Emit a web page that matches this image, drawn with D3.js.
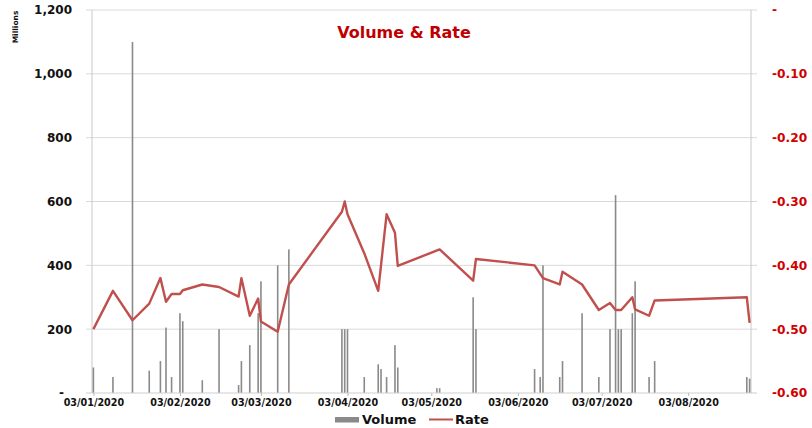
<!DOCTYPE html>
<head>
<meta charset="utf-8">
<title>Volume & Rate</title>
<script type="text/javascript" src="https://d3js.org/d3.v7.min.js"></script>
<style>
  body { margin: 0; background: #fff; }
  svg { display: block; font-family: "DejaVu Sans", sans-serif; font-weight: bold; }
</style>
</head>
<body>
<div id="container"></div>
<script>
//-----------------------------DATA------------------------------//
const volDates = ["2020-01-03","2020-01-10","2020-01-17","2020-01-23","2020-01-27","2020-01-29","2020-01-31",
  "2020-02-03","2020-02-04","2020-02-11","2020-02-17","2020-02-24","2020-02-25","2020-02-28",
  "2020-03-02","2020-03-03","2020-03-09","2020-03-13",
  "2020-04-01","2020-04-02","2020-04-03","2020-04-09","2020-04-14","2020-04-15","2020-04-17","2020-04-20","2020-04-21",
  "2020-05-05","2020-05-06","2020-05-18","2020-05-19",
  "2020-06-09","2020-06-11","2020-06-12","2020-06-18","2020-06-19","2020-06-26",
  "2020-07-02","2020-07-06","2020-07-08","2020-07-09","2020-07-10","2020-07-14","2020-07-15","2020-07-20","2020-07-22",
  "2020-08-24","2020-08-25"];
// millions
const volume = [80,50,1100,70,100,205,50,
  250,225,40,200,25,100,150,
  250,350,400,450,
  200,200,200,50,90,75,50,150,80,
  15,15,300,200,
  75,50,400,50,100,250,
  50,200,620,200,200,250,350,50,100,
  50,45];

const rateDates = ["2020-01-03","2020-01-10","2020-01-17","2020-01-23","2020-01-27","2020-01-29","2020-01-31",
  "2020-02-03","2020-02-04","2020-02-11","2020-02-17","2020-02-24","2020-02-25","2020-02-28",
  "2020-03-02","2020-03-03","2020-03-09","2020-03-13",
  "2020-04-01","2020-04-02","2020-04-03","2020-04-09","2020-04-14","2020-04-17","2020-04-20","2020-04-21",
  "2020-05-06","2020-05-18","2020-05-19",
  "2020-06-09","2020-06-12","2020-06-18","2020-06-19","2020-06-26",
  "2020-07-02","2020-07-06","2020-07-08","2020-07-10","2020-07-14","2020-07-15","2020-07-20","2020-07-22",
  "2020-08-24","2020-08-25"];
const rate = [-0.50,-0.44,-0.486,-0.46,-0.42,-0.457,-0.445,
  -0.445,-0.439,-0.43,-0.434,-0.449,-0.42,-0.479,
  -0.452,-0.488,-0.504,-0.43,
  -0.316,-0.30,-0.32,-0.381,-0.44,-0.32,-0.349,-0.401,
  -0.375,-0.424,-0.39,
  -0.40,-0.42,-0.43,-0.41,-0.43,
  -0.47,-0.459,-0.47,-0.47,-0.45,-0.469,-0.479,-0.455,
  -0.45,-0.49];

const xTicks = ["2020-01-03","2020-02-03","2020-03-03","2020-04-03","2020-05-03","2020-06-03","2020-07-03","2020-08-03"];
const leftTicks = [0,200,400,600,800,1000,1200];
const rightTicks = [-0.6,-0.5,-0.4,-0.3,-0.2,-0.1,0];

//-----------------------------SVG-------------------------------//
const W = 812, H = 428;
const plot = {left: 92, right: 751, top: 10, bottom: 393};

const svg = d3.select("#container").append("svg")
    .attr("width", W)
    .attr("height", H);

const parse = d3.utcParse("%Y-%m-%d");
const DAY = 864e5;
// each date sits in the middle of its day slot (Excel date axis)
const mid = s => new Date(parse(s).getTime() + DAY / 2);

//----------------------------SCALES-----------------------------//
const x = d3.scaleUtc()
    .domain([parse("2020-01-03"), parse("2020-08-26")])
    .range([plot.left, plot.right]);
const yL = d3.scaleLinear().domain([0, 1200]).range([plot.bottom, plot.top]);
const yR = d3.scaleLinear().domain([-0.6, 0]).range([plot.bottom, plot.top]);

//-----------------------------GRID------------------------------//
svg.append("g")
  .selectAll("line")
  .data(leftTicks.slice(1))
  .join("line")
    .attr("x1", plot.left - 6)
    .attr("x2", plot.right + 6)
    .attr("y1", d => yL(d))
    .attr("y2", d => yL(d))
    .attr("stroke", "#d9d9d9")
    .attr("stroke-width", 1);

[plot.left, plot.right].forEach(px => {
  svg.append("line")
    .attr("x1", px).attr("x2", px)
    .attr("y1", plot.top).attr("y2", plot.bottom)
    .attr("stroke", "#c8c8c8");
});

//-----------------------------BARS------------------------------//
svg.append("g")
  .selectAll("rect")
  .data(volDates.map((d, i) => ({date: mid(d), v: volume[i]})))
  .join("rect")
    .attr("x", d => x(d.date) - 0.8)
    .attr("width", 1.6)
    .attr("y", d => yL(d.v))
    .attr("height", d => yL(0) - yL(d.v))
    .attr("fill", "#8a8a8a");

// x baseline
svg.append("line")
    .attr("x1", plot.left - 6).attr("x2", plot.right + 6)
    .attr("y1", plot.bottom).attr("y2", plot.bottom)
    .attr("stroke", "#d0d0d0")
    .attr("stroke-width", 1.2);

//----------------------------LINE-------------------------------//
const line = d3.line()
    .x(d => x(d.date))
    .y(d => yR(d.r));

svg.append("path")
    .datum(rateDates.map((d, i) => ({date: mid(d), r: rate[i]})))
    .attr("fill", "none")
    .attr("stroke", "#c0504d")
    .attr("stroke-width", 2.4)
    .attr("stroke-linejoin", "round")
    .attr("d", line);

//-----------------------------AXES------------------------------//
const xAxis = svg.append("g")
    .attr("transform", "translate(0," + plot.bottom + ")")
    .call(d3.axisBottom(x)
      .tickValues(xTicks.map(mid))
      .tickSize(3)
      .tickFormat(d3.utcFormat("%d/%m/%Y")));
xAxis.select(".domain").remove();
xAxis.selectAll("line").attr("stroke", "#bbb");
xAxis.selectAll("text")
    .attr("y", 6)
    .attr("font-size", "9.6px")
    .attr("font-family", "DejaVu Sans")
    .attr("font-weight", "bold")
    .attr("fill", "#111");

const leftAxis = svg.append("g")
    .attr("transform", "translate(" + (plot.left - 20) + ",0)")
    .call(d3.axisLeft(yL)
      .tickValues(leftTicks)
      .tickSize(0)
      .tickFormat(d => d === 0 ? "-" : d3.format(",")(d)));
leftAxis.select(".domain").remove();
leftAxis.selectAll("text")
    .attr("x", d => d === 0 ? -8 : 0)
    .attr("font-size", "12px")
    .attr("font-family", "DejaVu Sans")
    .attr("font-weight", "bold")
    .attr("fill", "#111");

const rightAxis = svg.append("g")
    .attr("transform", "translate(" + (plot.right + 21) + ",0)")
    .call(d3.axisRight(yR)
      .tickValues(rightTicks)
      .tickSize(0)
      .tickFormat(d => Math.abs(d) < 1e-9 ? "-" : d3.format(".2f")(d).replace("\u2212", "-")));
rightAxis.select(".domain").remove();
rightAxis.selectAll("text")
    .attr("x", 0)
    .attr("font-size", "12.2px")
    .attr("font-family", "DejaVu Sans")
    .attr("font-weight", "bold")
    .attr("fill", "#d10000");

svg.append("text")
    .attr("transform", "translate(18,27) rotate(-90)")
    .attr("text-anchor", "middle")
    .attr("font-size", "7.5px")
    .attr("fill", "#111")
    .text("Millions");

//-----------------------------TITLE-----------------------------//
svg.append("text")
    .attr("x", 404)
    .attr("y", 37.5)
    .attr("text-anchor", "middle")
    .attr("font-size", "16px")
    .attr("fill", "#c00000")
    .text("Volume & Rate");

//----------------------------LEGEND-----------------------------//
const legend = svg.append("g").attr("font-size", "13px").attr("fill", "#111");
legend.append("rect")
    .attr("x", 335).attr("y", 417)
    .attr("width", 24).attr("height", 5.5)
    .attr("fill", "#8a8a8a");
legend.append("text").attr("x", 362).attr("y", 423.5).text("Volume");
legend.append("line")
    .attr("x1", 429).attr("x2", 453)
    .attr("y1", 419.5).attr("y2", 419.5)
    .attr("stroke", "#c0504d")
    .attr("stroke-width", 2);
legend.append("text").attr("x", 455).attr("y", 423.5).text("Rate");
</script>
</body>
